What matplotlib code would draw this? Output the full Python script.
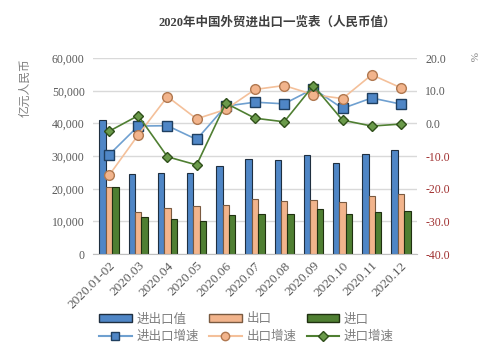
import matplotlib
matplotlib.use("Agg")
import matplotlib.pyplot as plt
import numpy as np
from matplotlib.lines import Line2D
from matplotlib.patches import Patch

plt.rcParams["font.family"] = ["Liberation Serif", "Noto Sans CJK SC"]

months = ["2020.01-02", "2020.03", "2020.04", "2020.05", "2020.06", "2020.07",
          "2020.08", "2020.09", "2020.10", "2020.11", "2020.12"]
total = [41200, 24400, 24800, 24900, 26900, 29200, 28700, 30400, 28000, 30700, 31900]
export = [20500, 12900, 14100, 14600, 14900, 16800, 16400, 16600, 16000, 17900, 18500]
imports = [20700, 11400, 10900, 10200, 11900, 12400, 12400, 13900, 12200, 12800, 13200]
total_g = [-9.6, -0.8, -0.7, -4.9, 5.3, 6.5, 6.0, 10.6, 4.6, 7.8, 5.9]
export_g = [-15.9, -3.5, 8.2, 1.4, 4.3, 10.4, 11.6, 8.8, 7.6, 14.9, 10.9]
import_g = [-2.4, 2.4, -10.2, -12.7, 6.2, 1.6, 0.5, 11.6, 1.0, -0.8, -0.2]

blue = "#4f86c6"
orange = "#f2b48c"
green = "#4f7f32"
gray = "#595959"

fig = plt.figure(figsize=(5, 3.52), dpi=100)
ax = fig.add_axes([0.186, 0.278, 0.648, 0.557])
ax2 = ax.twinx()

x = np.arange(len(months))
w = 0.22
ax.bar(x - w, total, w, color=blue, edgecolor="#1f2f40", linewidth=0.8, zorder=2)
ax.bar(x, export, w, color=orange, edgecolor="#7a5a40", linewidth=0.8, zorder=2)
ax.bar(x + w, imports, w, color=green, edgecolor="#1f3010", linewidth=0.8, zorder=2)

ax.set_ylim(0, 60000)
ax.set_yticks(range(0, 60001, 10000))
ax.set_yticklabels([f"{v:,}" for v in range(0, 60001, 10000)])
ax.grid(axis="y", color="#d9d9d9", linewidth=1, zorder=0)
ax.set_axisbelow(True)
ax.set_xlim(-0.55, len(months) - 0.45)
ax.set_xticks(x)
ax.set_xticklabels(months, rotation=45, ha="right", rotation_mode="anchor")
for s in ["top", "left", "right"]:
    ax.spines[s].set_visible(False)
    ax2.spines[s].set_visible(False)
ax.spines["bottom"].set_color("#bfbfbf")
ax2.spines["bottom"].set_visible(False)
ax.tick_params(axis="y", length=0, labelsize=8.5, colors=gray, pad=6)
ax.tick_params(axis="x", length=0, labelsize=9.5, colors=gray, pad=4)

ax2.plot(x, total_g, color="#6fa0d0", marker="s", markersize=6.5,
         markerfacecolor="#4f86c6", markeredgecolor="#1f3f60", linewidth=1.2, zorder=3)
ax2.plot(x, export_g, color="#f4c09a", marker="o", markersize=7,
         markerfacecolor="#f2b48c", markeredgecolor="#b07850", linewidth=1.2, zorder=3)
ax2.plot(x, import_g, color="#4f7f32", marker="D", markersize=5,
         markerfacecolor="#6a9a4a", markeredgecolor="#2f4f1a", linewidth=1.2, zorder=4)
ax2.set_ylim(-40, 20)
ax2.set_yticks(range(-40, 21, 10))
ax2.set_yticklabels([f"{v:.1f}" for v in range(-40, 21, 10)])
ax2.tick_params(axis="y", length=0, labelsize=8.5, pad=6)
for t, v in zip(ax2.get_yticklabels(), range(-40, 21, 10)):
    t.set_color("#a03030" if v < 0 else gray)

fig.text(0.555, 0.935, "2020年中国外贸进出口一览表（人民币值）", ha="center", va="center",
         fontsize=9, fontweight="bold", color="#404040")
fig.text(0.05, 0.835, "亿元人民币", rotation=90, ha="center", va="top",
         fontsize=8.5, color="#7f7f7f")
fig.text(0.945, 0.84, "%", rotation=-90, ha="center", va="center",
         fontsize=8, color="#7f7f7f")

handles = [
    Patch(facecolor=blue, edgecolor="#1f2f40"),
    Patch(facecolor=orange, edgecolor="#7a5a40"),
    Patch(facecolor=green, edgecolor="#1f3010"),
    Line2D([], [], color="#6fa0d0", marker="s", markerfacecolor=blue,
           markeredgecolor="#1f3f60", markersize=6),
    Line2D([], [], color="#f4c09a", marker="o", markerfacecolor=orange,
           markeredgecolor="#b07850", markersize=6),
    Line2D([], [], color="#4f7f32", marker="D", markerfacecolor="#6a9a4a",
           markeredgecolor="#2f4f1a", markersize=5),
]
labels = ["进出口值", "出口", "进口", "进出口增速", "出口增速", "进口增速"]
order = [0, 3, 1, 4, 2, 5]
fig.legend([handles[i] for i in order], [labels[i] for i in order], ncol=3,
           loc="center", bbox_to_anchor=(0.493, 0.068), frameon=False,
           fontsize=9, labelcolor="#7f7f7f", handlelength=2.6, handleheight=0.6,
           columnspacing=0.8, handletextpad=0.4, labelspacing=0.4)

fig.savefig("out.png", dpi=100)
